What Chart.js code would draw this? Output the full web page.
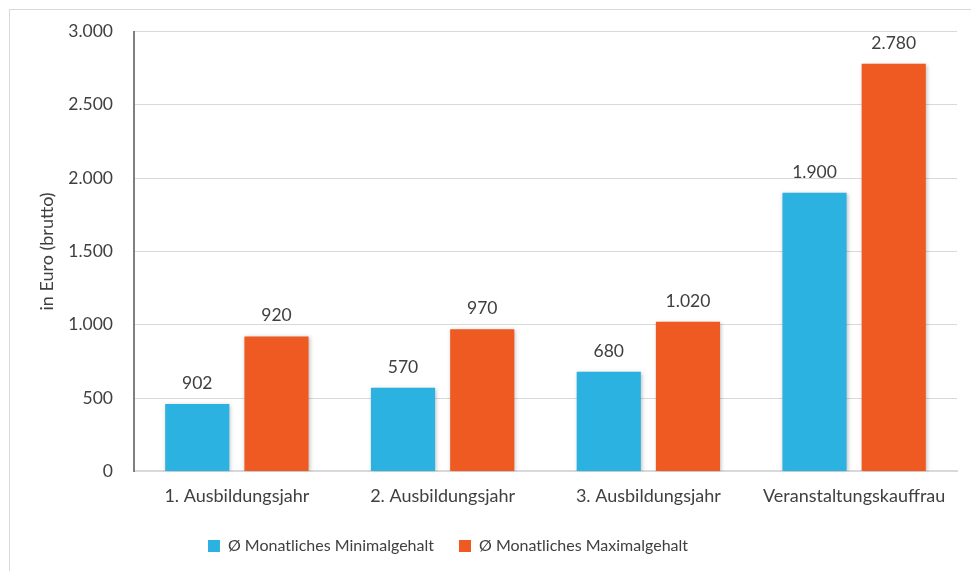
<!DOCTYPE html>
<html>
<head>
    <meta charset="utf-8" />
    <title>Ausbildungsgehalt Veranstaltungskauffrau</title>
    <script src="https://cdn.jsdelivr.net/npm/chart.js"></script>
    <style>
        body { margin: 0; background: #fff; }
        #frame {
            position: absolute; left: 9px; top: 9px;
            width: 1000px; height: 1000px;
            border: 1px solid #d9d9d9;
        }
        #wrap { position: absolute; left: 0; top: 0; width: 971px; height: 571px; }
    </style>
</head>
<body>
    <div id="frame"></div>
    <div id="wrap"><canvas id="chart"></canvas></div>
    <script>
        // Daten
        var categories = ['1. Ausbildungsjahr', '2. Ausbildungsjahr', '3. Ausbildungsjahr', 'Veranstaltungskauffrau'];
        var minValues = [460, 570, 680, 1900];
        var maxValues = [920, 970, 1020, 2780];
        // Beschriftungen wie im Original (erste Beschriftung weicht vom Balken ab)
        var minLabels = ['902', '570', '680', '1.900'];
        var maxLabels = ['920', '970', '1.020', '2.780'];
        var yTicks = [0, 500, 1000, 1500, 2000, 2500, 3000];

        function fmt(n) {
            return String(n).replace(/\B(?=(\d{3})+(?!\d))/g, '.');
        }

        var textColor = '#404040';
        var fontFamily = 'Lato, "Open Sans", sans-serif';

        // Werte über den Balken
        var valueLabels = {
            id: 'valueLabels',
            afterDatasetsDraw: function(chart) {
                var ctx = chart.ctx;
                var texts = [minLabels, maxLabels];
                ctx.save();
                ctx.font = '17.5px ' + fontFamily;
                ctx.fillStyle = textColor;
                ctx.textAlign = 'center';
                ctx.textBaseline = 'bottom';
                chart.data.datasets.forEach(function(ds, i) {
                    chart.getDatasetMeta(i).data.forEach(function(bar, j) {
                        ctx.fillText(texts[i][j], bar.x, bar.y - 12);
                    });
                });
                ctx.restore();
            }
        };

        // leichter Schatten an den Balken
        var barShadow = {
            id: 'barShadow',
            beforeDatasetsDraw: function(chart) {
                var ctx = chart.ctx;
                ctx.save();
                ctx.shadowColor = 'rgba(0,0,0,0.25)';
                ctx.shadowBlur = 4;
                ctx.shadowOffsetX = 1;
                ctx.shadowOffsetY = 1;
            },
            afterDatasetsDraw: function(chart) {
                chart.ctx.restore();
            }
        };

        // Legende etwas nach links, wie im Original
        var legendShift = {
            id: 'legendShift',
            afterLayout: function(chart) {
                chart.legend.right -= 97;
            }
        };

        new Chart(document.getElementById('chart'), {
            type: 'bar',
            data: {
                labels: categories,
                datasets: [{
                    label: 'Ø Monatliches Minimalgehalt',
                    data: minValues,
                    backgroundColor: '#2bb2e0'
                }, {
                    label: 'Ø Monatliches Maximalgehalt',
                    data: maxValues,
                    backgroundColor: '#ee5a22'
                }]
            },
            options: {
                responsive: true,
                maintainAspectRatio: false,
                animation: false,
                categoryPercentage: 0.77,
                barPercentage: 0.81,
                layout: { padding: { left: 36, right: 14, top: 26, bottom: 7 } },
                plugins: {
                    tooltip: { enabled: false },
                    legend: {
                        position: 'bottom',
                        labels: {
                            color: textColor,
                            font: { family: fontFamily, size: 16 },
                            boxWidth: 12,
                            boxHeight: 12,
                            padding: 25
                        }
                    }
                },
                scales: {
                    x: {
                        grid: { display: false },
                        border: { color: '#d9d9d9', width: 2 },
                        ticks: {
                            color: textColor,
                            font: { family: fontFamily, size: 18 },
                            padding: 6
                        }
                    },
                    y: {
                        min: 0,
                        max: 3000,
                        afterBuildTicks: function(scale) {
                            scale.ticks = yTicks.map(function(v) { return { value: v }; });
                        },
                        afterFit: function(scale) { scale.width = 98; },
                        grid: { color: '#d9d9d9', drawTicks: false },
                        border: { color: '#7f7f7f', width: 2 },
                        ticks: {
                            color: textColor,
                            font: { family: fontFamily, size: 17.5 },
                            padding: 21,
                            callback: function(v) { return fmt(v); }
                        },
                        title: {
                            display: true,
                            text: 'in Euro (brutto)',
                            color: textColor,
                            font: { family: fontFamily, size: 18 },
                            padding: 0
                        }
                    }
                }
            },
            plugins: [barShadow, valueLabels, legendShift]
        });
    </script>
</body>
</html>
